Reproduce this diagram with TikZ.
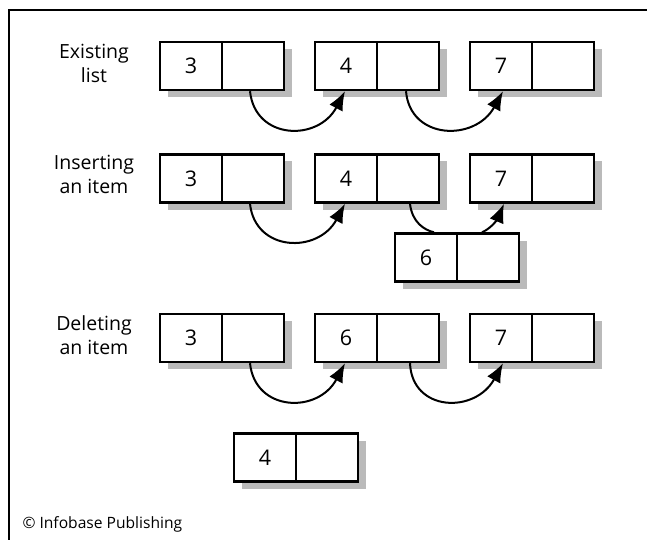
\documentclass[tikz,border=0pt]{standalone}
\usepackage{fontspec}
\setmainfont{Open Sans}
\usetikzlibrary{shadows,arrows.meta,calc}
\begin{document}
\begin{tikzpicture}[x=1pt,y=-1pt,
  cell/.style={draw=black,line width=2.4pt,fill=white,minimum width=62pt,minimum height=48pt,inner sep=0pt,
    font=\fontsize{21.5}{21.5}\selectfont,
    drop shadow={shadow xshift=8pt,shadow yshift=-7pt,fill=black!27,opacity=1}},
  lbl/.style={align=center,font=\fontsize{19.5}{24}\selectfont},
  link/.style={line width=2pt,-{Latex[length=19pt,width=15pt]}},
  plain/.style={line width=2pt}]
\useasboundingbox (0,0) rectangle (647,540);
\draw[line width=1.5pt] (9,540) -- (9,10) -- (647,10);
% labels
\node[lbl] (l1) at (94,63) {Existing\\list};
\node[lbl] (l2) at (94,174) {Inserting\\an item};
\node[lbl] (l3) at (94,335) {Deleting\\an item};
\node[anchor=base west,font=\fontsize{15.6}{15.6}\selectfont] (cp) at (19,528) {© Infobase Publishing};
% row 1
\node[cell] (a1) at (191,66) {3};
\node[cell] (a1p) at (253,66) {};
\node[cell] (b1) at (346,66) {4};
\node[cell] (b1p) at (408,66) {};
\node[cell] (c1) at (501,66) {7};
\node[cell] (c1p) at (563,66) {};
% row 2
\node[cell] (a2) at (191,178.5) {3};
\node[cell] (a2p) at (253,178.5) {};
\node[cell] (b2) at (346,178.5) {4};
\node[cell] (b2p) at (408,178.5) {};
\node[cell] (c2) at (501,178.5) {7};
\node[cell] (c2p) at (563,178.5) {};
\node[cell] (d2) at (426,257.5) {6};
\node[cell] (d2p) at (488,257.5) {};
% row 3
\node[cell] (a3) at (191,338) {3};
\node[cell] (a3p) at (253,338) {};
\node[cell] (b3) at (346,338) {6};
\node[cell] (b3p) at (408,338) {};
\node[cell] (c3) at (501,338) {7};
\node[cell] (c3p) at (563,338) {};
\node[cell] (e3) at (265,457.5) {4};
\node[cell] (e3p) at (327,457.5) {};
% arrows row 1
\draw[link] ([xshift=-3pt]a1p.south) .. controls (255,140) and (318,142) .. ([xshift=-1pt]b1.south);
\draw[link] ([xshift=-2pt]b1p.south) .. controls (410,140) and (475,142) .. ([xshift=2pt]c1.south);
% arrows row 2
\draw[link] ([xshift=-3pt]a2p.south) .. controls (255,252) and (318,254) .. ([xshift=-1pt]b2.south);
\draw[plain] ([xshift=2pt]b2p.south) .. controls (412,222) and (424,230) .. ([xshift=8pt]d2.north);
\draw[link] ([xshift=-6pt]d2p.north) .. controls (492,228) and (498,218) .. ([xshift=3pt]c2.south);
% arrows row 3
\draw[link] ([xshift=-3pt]a3p.south) .. controls (255,412) and (318,414) .. ([xshift=-1pt]b3.south);
\draw[link] ([xshift=2pt]b3p.south) .. controls (412,412) and (475,414) .. ([xshift=2pt]c3.south);
\end{tikzpicture}
\end{document}
